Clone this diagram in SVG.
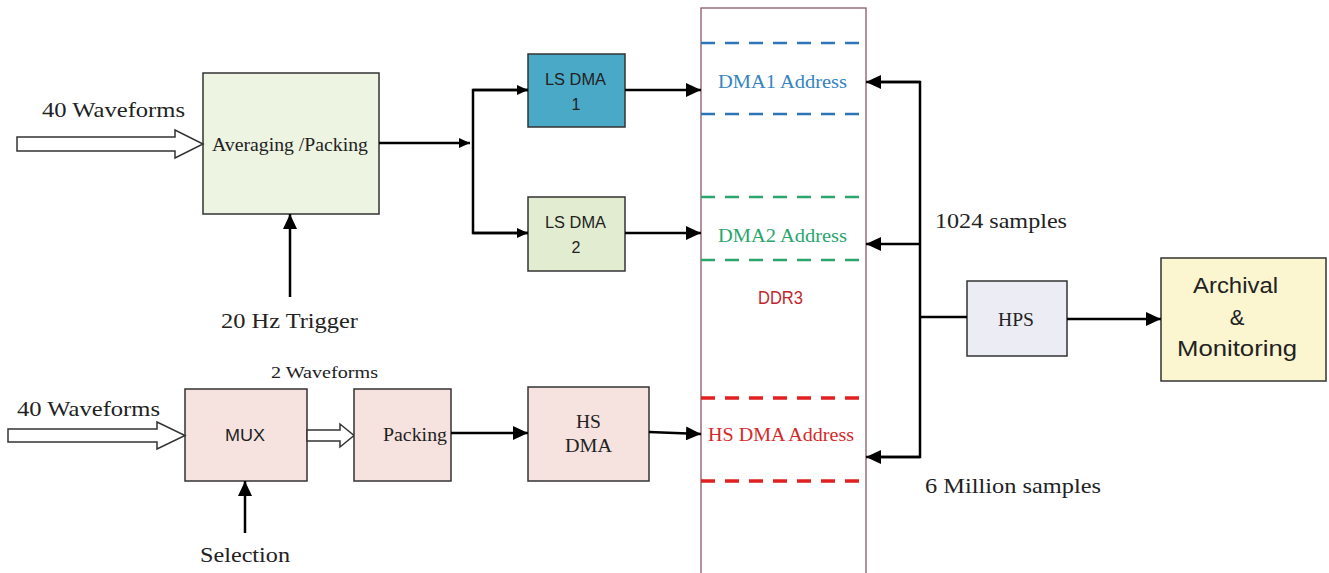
<svg xmlns="http://www.w3.org/2000/svg" width="1329" height="573" viewBox="0 0 1329 573">
<defs>
<marker id="ah" markerUnits="userSpaceOnUse" markerWidth="16" markerHeight="14" refX="15" refY="7" orient="auto">
<path d="M0,0 L15,7 L0,14 z" fill="#000"/>
</marker>
<marker id="ahs" markerUnits="userSpaceOnUse" markerWidth="12" markerHeight="12" refX="11" refY="5" orient="auto">
<path d="M0,0 L11,5 L0,10 z" fill="#000"/>
</marker>
</defs>
<style>
.box{stroke:#333;stroke-width:1.5}
.serif{font-family:"Liberation Serif",serif;fill:#222}
.sans{font-family:"Liberation Sans",Arial,sans-serif;fill:#222}
.ln{stroke:#000;stroke-width:2.5;fill:none}
.hollow{fill:#fff;stroke:#333;stroke-width:1.5}
</style>
<rect width="1329" height="573" fill="#fff"/>

<g id="ddr3">
<rect x="701" y="8" width="165" height="575" fill="none" stroke="#8a5a66" stroke-width="1.3"/>
<line x1="701" y1="43" x2="868" y2="43" stroke="#2e75b6" stroke-width="2.5" stroke-dasharray="14,10"/>
<line x1="701" y1="114" x2="868" y2="114" stroke="#2e75b6" stroke-width="2.5" stroke-dasharray="14,10"/>
<line x1="701" y1="197" x2="868" y2="197" stroke="#2aa56e" stroke-width="2.5" stroke-dasharray="14,10"/>
<line x1="701" y1="260" x2="868" y2="260" stroke="#2aa56e" stroke-width="2.5" stroke-dasharray="14,10"/>
<line x1="701" y1="398" x2="868" y2="398" stroke="#e02020" stroke-width="3.5" stroke-dasharray="14,10"/>
<line x1="701" y1="481" x2="868" y2="481" stroke="#e02020" stroke-width="3.5" stroke-dasharray="14,10"/>
<text x="718" y="88" class="serif" font-size="18" textLength="129" lengthAdjust="spacingAndGlyphs" style="fill:#3584c0">DMA1 Address</text>
<text x="718" y="242" class="serif" font-size="18" textLength="129" lengthAdjust="spacingAndGlyphs" style="fill:#2aa56e">DMA2 Address</text>
<text x="758" y="304" class="sans" font-size="17.5" textLength="45" lengthAdjust="spacingAndGlyphs" style="fill:#c0282d">DDR3</text>
<text x="708" y="441" class="serif" font-size="18" textLength="146" lengthAdjust="spacingAndGlyphs" style="fill:#d42a2a">HS DMA Address</text>
</g>

<g id="avg">
<rect class="box" x="203" y="73" width="176" height="141" fill="#eef4e2"/>
<text x="212" y="151" class="serif" font-size="18" textLength="156" lengthAdjust="spacingAndGlyphs">Averaging /Packing</text>
</g>
<g id="in40a">
<path class="hollow" d="M17,137 H175 V130 L203,144 L175,158 V151 H17 Z"/>
<text x="42" y="117" class="serif" font-size="21" textLength="143" lengthAdjust="spacingAndGlyphs">40 Waveforms</text>
</g>
<g id="trigger">
<text x="221" y="328" class="serif" font-size="21" textLength="137" lengthAdjust="spacingAndGlyphs">20 Hz Trigger</text>
</g>

<g id="lsdma1">
<rect class="box" x="528" y="54" width="97" height="73" fill="#4aa9c6"/>
<text x="545" y="85" class="sans" font-size="16" textLength="61" lengthAdjust="spacingAndGlyphs">LS DMA</text>
<text x="576" y="110" text-anchor="middle" class="sans" font-size="16">1</text>
</g>
<g id="lsdma2">
<rect class="box" x="528" y="197" width="97" height="74" fill="#e2ecd0"/>
<text x="545" y="228" class="sans" font-size="16" textLength="61" lengthAdjust="spacingAndGlyphs">LS DMA</text>
<text x="576" y="253" text-anchor="middle" class="sans" font-size="16">2</text>
</g>

<g id="mux">
<rect class="box" x="185" y="389" width="122" height="92" fill="#f6e2df"/>
<text x="225" y="441" class="sans" font-size="16" textLength="40" lengthAdjust="spacingAndGlyphs">MUX</text>
</g>
<g id="in40b">
<path class="hollow" d="M8,429 H157 V422 L185,435.5 L157,449 V442 H8 Z"/>
<text x="17" y="416" class="serif" font-size="21" textLength="143" lengthAdjust="spacingAndGlyphs">40 Waveforms</text>
</g>
<g id="two">
<path class="hollow" d="M307,430 H340 V424 L354,435.5 L340,447 V441 H307 Z"/>
<text x="271" y="378" class="serif" font-size="17" textLength="107" lengthAdjust="spacingAndGlyphs">2 Waveforms</text>
</g>
<g id="packing">
<rect class="box" x="354" y="389" width="97" height="92" fill="#f6e2df"/>
<text x="383" y="441" class="serif" font-size="19" textLength="64" lengthAdjust="spacingAndGlyphs">Packing</text>
</g>
<g id="hsdma">
<rect class="box" x="528" y="387" width="121" height="94" fill="#f6e2df"/>
<text x="576" y="428" class="serif" font-size="19" textLength="25" lengthAdjust="spacingAndGlyphs">HS</text>
<text x="565" y="452" class="serif" font-size="19" textLength="47" lengthAdjust="spacingAndGlyphs">DMA</text>
</g>
<g id="selection">
<text x="200" y="562" class="serif" font-size="21" textLength="90" lengthAdjust="spacingAndGlyphs">Selection</text>
</g>

<g id="hps">
<rect class="box" x="967" y="281" width="100" height="75" fill="#ececf4"/>
<text x="998" y="326" class="serif" font-size="19" textLength="36" lengthAdjust="spacingAndGlyphs">HPS</text>
</g>
<g id="archival">
<rect class="box" x="1161" y="258" width="165" height="123" fill="#fbf5d0"/>
<text x="1193" y="293" class="sans" font-size="22" textLength="85" lengthAdjust="spacingAndGlyphs">Archival</text>
<text x="1237" y="325" text-anchor="middle" class="sans" font-size="22">&amp;</text>
<text x="1177" y="356" class="sans" font-size="22" textLength="120" lengthAdjust="spacingAndGlyphs">Monitoring</text>
</g>
<g id="labels">
<text x="935" y="228" class="serif" font-size="21" textLength="132" lengthAdjust="spacingAndGlyphs">1024  samples</text>
<text x="925" y="493" class="serif" font-size="21" textLength="176" lengthAdjust="spacingAndGlyphs">6 Million samples</text>
</g>

<g id="connectors">
<line class="ln" x1="379" y1="143" x2="470" y2="143" marker-end="url(#ahs)"/>
<polyline class="ln" points="528,90 473,90 473,233 528,233"/>
<line class="ln" x1="473" y1="90" x2="528" y2="90" marker-end="url(#ahs)"/>
<line class="ln" x1="473" y1="233" x2="528" y2="233" marker-end="url(#ahs)"/>
<line class="ln" x1="625" y1="90" x2="701" y2="90" marker-end="url(#ah)"/>
<line class="ln" x1="625" y1="233" x2="701" y2="233" marker-end="url(#ah)"/>
<line class="ln" x1="290" y1="297" x2="290" y2="214" marker-end="url(#ah)"/>
<line class="ln" x1="245" y1="533" x2="245" y2="481" marker-end="url(#ah)"/>
<line class="ln" x1="451" y1="433" x2="528" y2="433" marker-end="url(#ah)"/>
<line class="ln" x1="649" y1="432" x2="701" y2="434" marker-end="url(#ah)"/>
<polyline class="ln" points="880,82 920,82 920,457 880,457"/>
<line class="ln" x1="920" y1="82" x2="866" y2="82" marker-end="url(#ah)"/>
<line class="ln" x1="920" y1="244" x2="866" y2="244" marker-end="url(#ah)"/>
<line class="ln" x1="920" y1="457" x2="866" y2="457" marker-end="url(#ah)"/>
<line class="ln" x1="920" y1="317" x2="967" y2="317"/>
<line class="ln" x1="1067" y1="319" x2="1161" y2="319" marker-end="url(#ah)"/>
</g>
</svg>
